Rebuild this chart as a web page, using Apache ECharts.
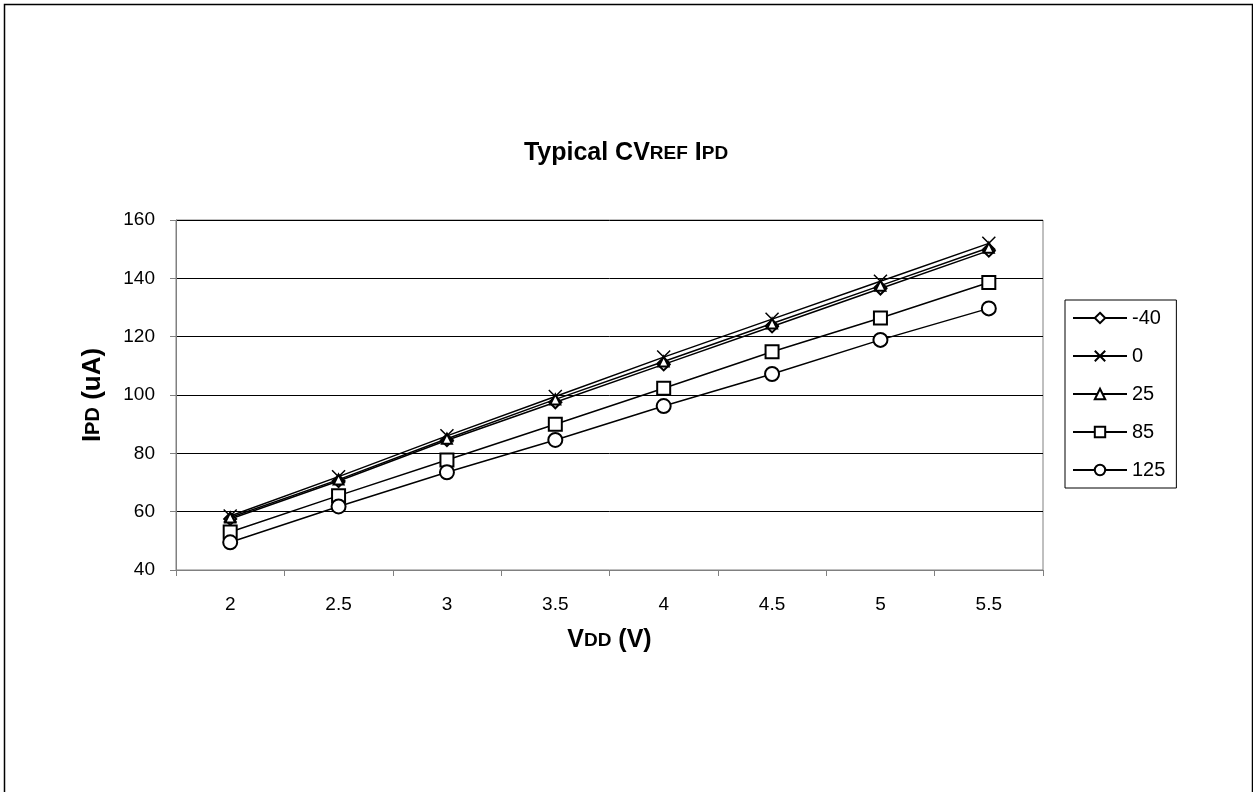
<!DOCTYPE html>
<html><head><meta charset="utf-8">
<script src="https://cdn.jsdelivr.net/npm/echarts@6/dist/echarts.min.js"></script>
<style>html,body{margin:0;padding:0;background:#fff}#c{width:1253px;height:792px}</style>
</head><body><div id="c"></div>
<script>
const categories = ['2','2.5','3','3.5','4','4.5','5','5.5'];
const seriesNames = ['-40','0','25','85','125'];
const sM40 = [57.5, 70.5, 84.5, 97.5, 110.5, 123.5, 136.5, 149.5];
const s0   = [58.5, 72.0, 86.0, 99.5, 113.0, 126.0, 139.0, 152.0];
const s25  = [58.0, 71.0, 85.0, 98.5, 111.5, 124.5, 137.5, 150.5];
const s85  = [53.0, 65.5, 77.7, 90.0, 102.3, 114.8, 126.4, 138.6];
const s125 = [49.5, 61.8, 73.5, 84.6, 96.2, 107.2, 118.9, 129.7];
const yTicks = [40, 60, 80, 100, 120, 140, 160];

const FONT = 'Liberation Sans, Arial, sans-serif';
const symbols = [
  'emptyDiamond',
  'path://M0,0 L10,10 M10,0 L0,10',
  'emptyTriangle',
  'emptyRect',
  'emptyCircle'
];
const sizes = [12, 13, 10, 13, 14];
const dataArr = [sM40, s0, s25, s85, s125];

const richMain = (big, small) => ({
  a: {fontFamily: FONT, fontSize: big, fontWeight: 'bold', color: '#000'},
  b: {fontFamily: FONT, fontSize: small, fontWeight: 'bold', color: '#000'}
});

const chart = echarts.init(document.getElementById('c'), null, {renderer:'canvas'});
chart.setOption({
  backgroundColor: '#fff',
  animation: false,
  graphic: [{
    type: 'rect', left: 2, top: 2,
    shape: {width: 1248, height: 800},
    style: {fill: 'none', stroke: '#000', lineWidth: 1.5}, z: -1
  }],
  title: {
    text: '{a|Typical CV}{b|REF}{a| I}{b|PD}',
    left: 621, textAlign: 'center', top: 136,
    textStyle: {rich: richMain(25, 19)}
  },
  legend: {
    orient: 'vertical',
    left: 1065, top: 300,
    width: 112, height: 192,
    padding: [8, 11, 8, 7],
    itemGap: 18,
    itemWidth: 54, itemHeight: 13,
    borderColor: '#000', borderWidth: 1,
    textStyle: {fontFamily: FONT, fontSize: 20, color: '#000', lineHeight: 20, padding:[0,0,0,0]},
    data: seriesNames
  },
  grid: {left: 176, right: 210, top: 220, bottom: 222, show: true, borderColor: '#808080', borderWidth: 1},
  xAxis: {
    type: 'category', data: categories, boundaryGap: true,
    name: '{a|V}{b|DD}{a| (V)}', nameLocation: 'middle', nameGap: 58,
    nameTextStyle: {rich: richMain(25, 19)},
    axisLine: {lineStyle: {color: '#808080', width: 1}},
    axisTick: {show: true, length: 6, lineStyle: {color: '#808080'}},
    axisLabel: {fontFamily: FONT, fontSize: 19, color: '#000', margin: 25},
    splitLine: {show: false}
  },
  yAxis: {
    type: 'value', min: 40, max: 160, interval: 20,
    name: '{a|I}{b|PD}{a| (uA)}', nameLocation: 'middle', nameGap: 70,
    nameTextStyle: {rich: richMain(26, 20)},
    axisLine: {show: true, lineStyle: {color: '#808080', width: 1}},
    axisTick: {show: true, length: 6, lineStyle: {color: '#808080'}},
    axisLabel: {fontFamily: FONT, fontSize: 19, color: '#000', margin: 21,
      formatter: v => yTicks.includes(v) ? String(v) : ''},
    splitLine: {show: true, lineStyle: {color: '#000', width: 1}}
  },
  series: seriesNames.map((n, i) => ({
    name: n, type: 'line', data: dataArr[i],
    symbol: symbols[i], symbolSize: sizes[i], showSymbol: true,
    lineStyle: {color: '#000', width: 1.5},
    itemStyle: {color: '#000', borderColor: '#000', borderWidth: 1.5},
    emphasis: {disabled: true}
  }))
});
</script></body></html>
